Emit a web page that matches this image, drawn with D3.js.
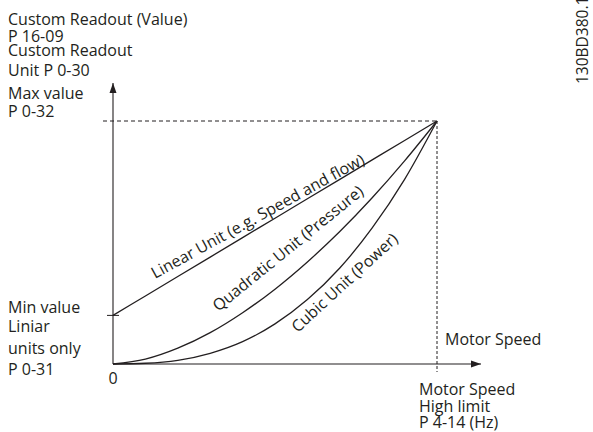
<!DOCTYPE html>
<html>
<head>
<meta charset="utf-8">
<script src="https://cdn.jsdelivr.net/npm/d3@7"></script>
<style>
  html, body { margin: 0; padding: 0; background: #fff; }
  text { font-family: "Open Sans", "Noto Sans", sans-serif; fill: #231f20; }
</style>
</head>
<body>
<svg id="chart" width="593" height="432"></svg>
<script>
// ---- data ----
const speed      = [0, 0.1, 0.2, 0.3, 0.4, 0.5, 0.6, 0.7, 0.8, 0.9, 1.0];   // normalized motor speed
const linearVals = [0.2, 0.28, 0.36, 0.44, 0.52, 0.6, 0.68, 0.76, 0.84, 0.92, 1.0];
const quadVals   = [0, 0.02, 0.065, 0.129, 0.211, 0.308, 0.42, 0.545, 0.684, 0.836, 1.0];
const cubicVals  = [0, 0.003, 0.015, 0.044, 0.092, 0.165, 0.265, 0.395, 0.56, 0.76, 1.0];
const minValue = 0.2;
const maxValue = 1.0;
const curveNames = ["Linear Unit (e.g. Speed and flow)", "Quadratic Unit (Pressure)", "Cubic Unit (Power)"];
const yAxisLabels = ["Custom Readout (Value)", "P 16-09", "Custom Readout", "Unit P 0-30"];
const maxLabels = ["Max value", "P 0-32"];
const minLabels = ["Min value", "Liniar", "units only", "P 0-31"];
const xAxisLabel = "Motor Speed";
const highLimitLabels = ["Motor Speed", "High limit", "P 4-14 (Hz)"];
const originLabel = "0";
const docCode = "130BD380.1";

// ---- scales ----
const svg = d3.select("#chart");
const x = d3.scaleLinear().domain([0, 1]).range([113, 437]);
const y = d3.scaleLinear().domain([0, 1]).range([364, 121]);
const ink = "#231f20";

svg.append("defs").append("marker")
  .attr("id", "arr").attr("viewBox", "0 0 10 10")
  .attr("refX", 10).attr("refY", 5)
  .attr("markerWidth", 10).attr("markerHeight", 10)
  .attr("markerUnits", "userSpaceOnUse")
  .attr("orient", "auto")
  .append("path").attr("d", "M0,1.5 L10,5 L0,8.5 Z").attr("fill", ink);

// dashed guides
svg.append("line")
  .attr("x1", x(0) - 10).attr("x2", x(1))
  .attr("y1", y(maxValue)).attr("y2", y(maxValue))
  .attr("stroke", ink).attr("stroke-width", 1).attr("stroke-dasharray", "4,3");
svg.append("line")
  .attr("x1", x(1)).attr("x2", x(1))
  .attr("y1", y(maxValue)).attr("y2", y(0) + 8)
  .attr("stroke", ink).attr("stroke-width", 1).attr("stroke-dasharray", "3,2");

// axes
svg.append("line")
  .attr("x1", x(0)).attr("x2", x(0))
  .attr("y1", y(0)).attr("y2", y(0) - 281)
  .attr("stroke", ink).attr("stroke-width", 1.1).attr("marker-end", "url(#arr)");
svg.append("line")
  .attr("x1", x(0)).attr("x2", x(0) + 368)
  .attr("y1", y(0)).attr("y2", y(0))
  .attr("stroke", ink).attr("stroke-width", 1.1).attr("marker-end", "url(#arr)");

// min tick
svg.append("line")
  .attr("x1", x(0) - 6).attr("x2", x(0) + 6)
  .attr("y1", y(minValue)).attr("y2", y(minValue))
  .attr("stroke", ink).attr("stroke-width", 1);

// curves
const series = [linearVals, quadVals, cubicVals];
const line = d3.line().x(d => x(d[0])).y(d => y(d[1])).curve(d3.curveMonotoneX);
series.forEach(vals => {
  svg.append("path")
    .datum(speed.map((s, i) => [s, vals[i]]))
    .attr("d", line)
    .attr("fill", "none").attr("stroke", ink).attr("stroke-width", 1.3);
});

// curve labels (rotated along curves): start points expressed in data units
const labelAnchors = [
  {sx: 0.13, sy: 0.35, rot: -28.8},
  {sx: 0.325, sy: 0.214, rot: -39},
  {sx: 0.57, sy: 0.127, rot: -42.5}
];
curveNames.forEach((name, i) => {
  const a = labelAnchors[i];
  svg.append("text")
    .attr("transform", `translate(${x(a.sx)},${y(a.sy)}) rotate(${a.rot})`)
    .attr("font-size", 16)
    .text(name);
});

const fs = 16;
function block(lines, x0, baselines) {
  lines.forEach((t, i) => {
    svg.append("text").attr("x", x0).attr("y", baselines[i])
      .attr("font-size", fs).text(t);
  });
}
block(yAxisLabels, 8, [25, 42, 56, 76]);
block(maxLabels, 8, [99, 117]);
block(minLabels, 8, [313, 332, 354, 375]);
svg.append("text").attr("x", x(0)).attr("y", 384).attr("font-size", fs)
  .attr("text-anchor", "middle").text(originLabel);
svg.append("text").attr("x", 445).attr("y", 345).attr("font-size", fs).text(xAxisLabel);
block(highLimitLabels, 419, [395, 412, 428]);

svg.append("text")
  .attr("transform", "translate(588,84) rotate(-90)")
  .attr("font-size", 15.5).text(docCode);
</script>
</body>
</html>
